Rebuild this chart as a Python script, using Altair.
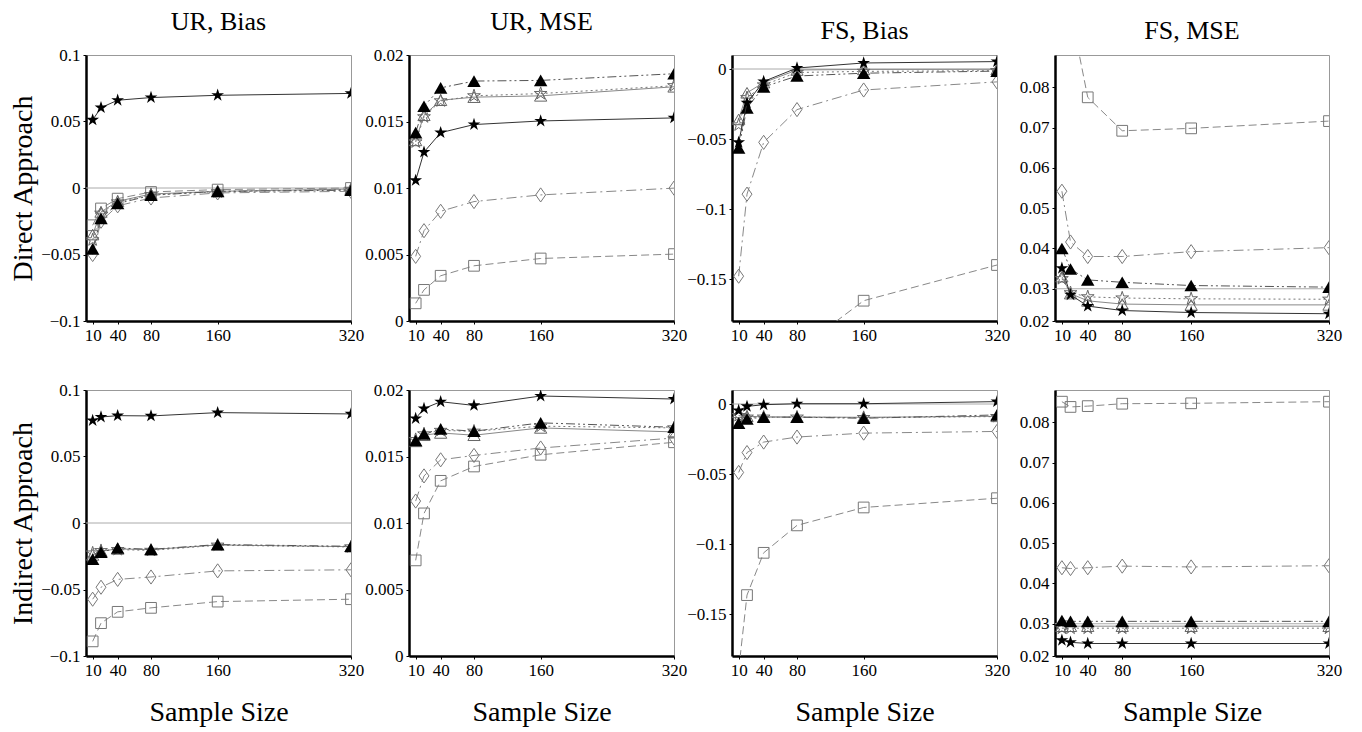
import altair as alt
import pandas as pd

SAMPLE_SIZES = [10, 20, 40, 80, 160, 320]
SERIES = ["filled star", "filled triangle", "open star", "open triangle", "open diamond", "open square"]
X_TICKS = [10, 40, 80, 160, 320]
COL_TITLES = ["UR, Bias", "UR, MSE", "FS, Bias", "FS, MSE"]
ROW_TITLES = ["Direct Approach", "Indirect Approach"]
X_TITLE = "Sample Size"

# each panel: one row of values per series (SERIES order), one value per sample size
ur_bias_direct = [
    [0.0512, 0.0604, 0.0660, 0.0680, 0.0697, 0.0711],
    [-0.0458, -0.0229, -0.0117, -0.0055, -0.0025, -0.0017],
    [-0.0390, -0.0190, -0.0105, -0.0050, -0.0030, -0.0010],
    [-0.0350, -0.0180, -0.0100, -0.0045, -0.0025, -0.0008],
    [-0.0500, -0.0250, -0.0134, -0.0075, -0.0037, -0.0025],
    [-0.0280, -0.0154, -0.0080, -0.0030, -0.0012, 0.0000],
]
ur_mse_direct = [
    [0.01057, 0.01270, 0.01416, 0.01477, 0.01504, 0.01527],
    [0.01416, 0.01615, 0.01753, 0.01804, 0.01809, 0.01859],
    [0.01346, 0.01535, 0.01655, 0.01693, 0.01710, 0.01769],
    [0.01358, 0.01547, 0.01660, 0.01683, 0.01693, 0.01761],
    [0.00486, 0.00679, 0.00825, 0.00898, 0.00948, 0.00999],
    [0.00133, 0.00234, 0.00340, 0.00415, 0.00470, 0.00503],
]
fs_bias_direct = [
    [-0.0524, -0.0242, -0.0089, 0.0007, 0.0043, 0.0053],
    [-0.0563, -0.0278, -0.0128, -0.0050, -0.0030, -0.0015],
    [-0.0400, -0.0205, -0.0114, -0.0025, -0.0017, -0.0012],
    [-0.0360, -0.0170, -0.0097, -0.0007, -0.0003, -0.0002],
    [-0.1480, -0.0894, -0.0524, -0.0290, -0.0150, -0.0092],
    [-0.4000, -0.3200, -0.2500, -0.2012, -0.1655, -0.1400],
]
fs_mse_direct = [
    [0.0351, 0.0285, 0.0257, 0.0246, 0.0241, 0.0238],
    [0.0400, 0.0349, 0.0322, 0.0316, 0.0308, 0.0304],
    [0.0325, 0.0290, 0.0280, 0.0277, 0.0275, 0.0274],
    [0.0330, 0.0288, 0.0270, 0.0262, 0.0260, 0.0260],
    [0.0542, 0.0416, 0.0380, 0.0380, 0.0392, 0.0402],
    [0.1200, 0.0990, 0.0775, 0.0692, 0.0698, 0.0716],
]
ur_bias_indirect = [
    [0.0771, 0.0797, 0.0807, 0.0805, 0.0830, 0.0820],
    [-0.0272, -0.0219, -0.0188, -0.0198, -0.0162, -0.0175],
    [-0.0226, -0.0208, -0.0200, -0.0206, -0.0167, -0.0180],
    [-0.0240, -0.0212, -0.0195, -0.0200, -0.0165, -0.0178],
    [-0.0573, -0.0483, -0.0424, -0.0406, -0.0360, -0.0352],
    [-0.0890, -0.0753, -0.0668, -0.0638, -0.0591, -0.0573],
]
ur_mse_indirect = [
    [0.01786, 0.01861, 0.01912, 0.01884, 0.01955, 0.01932],
    [0.01620, 0.01670, 0.01707, 0.01690, 0.01753, 0.01720],
    [0.01627, 0.01670, 0.01696, 0.01690, 0.01728, 0.01715],
    [0.01614, 0.01660, 0.01677, 0.01660, 0.01715, 0.01685],
    [0.01165, 0.01354, 0.01475, 0.01508, 0.01564, 0.01639],
    [0.00719, 0.01072, 0.01317, 0.01425, 0.01513, 0.01607],
]
fs_bias_indirect = [
    [-0.0047, -0.0017, -0.0005, 0.0002, 0.0002, 0.0017],
    [-0.0137, -0.0106, -0.0094, -0.0094, -0.0102, -0.0078],
    [-0.0083, -0.0094, -0.0094, -0.0094, -0.0097, -0.0090],
    [-0.0060, -0.0087, -0.0092, -0.0093, -0.0095, -0.0088],
    [-0.0489, -0.0347, -0.0272, -0.0236, -0.0208, -0.0196],
    [-0.1900, -0.1365, -0.1063, -0.0867, -0.0739, -0.0673],
]
fs_mse_indirect = [
    [0.0259, 0.0254, 0.0251, 0.0251, 0.0251, 0.0251],
    [0.0308, 0.0306, 0.0306, 0.0306, 0.0306, 0.0306],
    [0.0289, 0.0289, 0.0289, 0.0289, 0.0289, 0.0289],
    [0.0294, 0.0294, 0.0294, 0.0294, 0.0294, 0.0294],
    [0.0439, 0.0437, 0.0439, 0.0443, 0.0441, 0.0444],
    [0.0851, 0.0838, 0.0840, 0.0846, 0.0847, 0.0851],
]

BIAS_DOMAIN = [-0.1, 0.1]
BIAS_TICKS = [-0.1, -0.05, 0, 0.05, 0.1]
URMSE_DOMAIN = [0, 0.02]
URMSE_TICKS = [0, 0.005, 0.01, 0.015, 0.02]
FSBIAS_DOMAIN = [-0.18, 0.01]
FSBIAS_TICKS = [-0.15, -0.1, -0.05, 0]
FSMSE_DOMAIN = [0.022, 0.088]
FSMSE_TICKS = [0.022, 0.03, 0.04, 0.05, 0.06, 0.07, 0.08]

STAR = ("M0,-1L0.2245,-0.309L0.9511,-0.309L0.3633,0.118L0.5878,0.809L0,0.382"
        "L-0.5878,0.809L-0.3633,0.118L-0.9511,-0.309L-0.2245,-0.309Z")
DIAMOND = "M0,-1L0.7,0L0,1L-0.7,0Z"

LINE_STYLE = {
    "filled star": dict(color="#333333", strokeWidth=1),
    "filled triangle": dict(color="#555555", strokeWidth=1, strokeDash=[9, 3, 2, 3, 2, 3]),
    "open star": dict(color="#777777", strokeWidth=1, strokeDash=[2, 3]),
    "open triangle": dict(color="#888888", strokeWidth=1),
    "open diamond": dict(color="#888888", strokeWidth=1, strokeDash=[10, 4, 2, 4]),
    "open square": dict(color="#888888", strokeWidth=1, strokeDash=[8, 4]),
}
POINT_STYLE = {
    "filled star": dict(shape=STAR, size=180, filled=True, color="black", opacity=1),
    "filled triangle": dict(shape="triangle-up", size=180, filled=True, color="black", opacity=1),
    "open star": dict(shape=STAR, size=180, color="#666666", strokeWidth=1, opacity=1),
    "open triangle": dict(shape="triangle-up", size=150, color="#666666", strokeWidth=1, opacity=1),
    "open diamond": dict(shape=DIAMOND, size=200, color="#777777", strokeWidth=1, opacity=1),
    "open square": dict(shape="square", size=115, color="#777777", strokeWidth=1, opacity=1),
}

FONT = "Liberation Serif"
AXIS_STYLE = dict(
    labelFont=FONT, labelFontSize=17, labelColor="black",
    titleFont=FONT, titleFontSize=28, titleFontWeight="normal", titleColor="black",
    domainColor="black", domainWidth=2.5, tickColor="black", tickSize=3,
    grid=False, labelFlush=False, labelOverlap=False, labelPadding=3,
)


def make_panel(rows, ydom, yticks, title=None, ytitle=None, xtitle=None, ref=None, width=265):
    xscale = alt.Scale(domain=[2, 320], nice=False, zero=False)
    yscale = alt.Scale(domain=ydom, nice=False, zero=False)
    xaxis = alt.Axis(values=X_TICKS, format="d", title=xtitle, titlePadding=20, **AXIS_STYLE)
    if ydom == FSMSE_DOMAIN:
        yaxis = alt.Axis(values=yticks, title=ytitle, titlePadding=3,
                         labelExpr="datum.value < 0.025 ? '0.02' : format(datum.value, '~g')",
                         **AXIS_STYLE)
    else:
        yaxis = alt.Axis(values=yticks, format="~g", title=ytitle, titlePadding=3, **AXIS_STYLE)
    layers = []
    if ref is not None:
        layers.append(
            alt.Chart(pd.DataFrame({"y": [ref]}))
            .mark_rule(color="#aaaaaa", strokeWidth=1)
            .encode(y=alt.Y("y:Q", scale=yscale, axis=yaxis))
        )
    for s, row in reversed(list(zip(SERIES, rows))):
        df = pd.DataFrame({"x": SAMPLE_SIZES, "y": row})
        base = alt.Chart(df).encode(
            x=alt.X("x:Q", scale=xscale, axis=xaxis),
            y=alt.Y("y:Q", scale=yscale, axis=yaxis),
        )
        layers.append(base.mark_line(clip=True, **LINE_STYLE[s]))
        layers.append(base.mark_point(clip=True, **POINT_STYLE[s]))
    ch = alt.layer(*layers).properties(width=width, height=266)
    if title is not None:
        ch = ch.properties(title=alt.TitleParams(text=title, font=FONT, fontSize=26,
                                                 fontWeight="normal", color="black", offset=11))
    return ch


top = [
    make_panel(ur_bias_direct, BIAS_DOMAIN, BIAS_TICKS, COL_TITLES[0], ytitle=ROW_TITLES[0], ref=0),
    make_panel(ur_mse_direct, URMSE_DOMAIN, URMSE_TICKS, COL_TITLES[1]),
    make_panel(fs_bias_direct, FSBIAS_DOMAIN, FSBIAS_TICKS, COL_TITLES[2], ref=0),
    make_panel(fs_mse_direct, FSMSE_DOMAIN, FSMSE_TICKS, COL_TITLES[3], ref=0.03, width=274),
]
bottom = [
    make_panel(ur_bias_indirect, BIAS_DOMAIN, BIAS_TICKS, ytitle=ROW_TITLES[1], xtitle=X_TITLE, ref=0),
    make_panel(ur_mse_indirect, URMSE_DOMAIN, URMSE_TICKS, xtitle=X_TITLE),
    make_panel(fs_bias_indirect, FSBIAS_DOMAIN, FSBIAS_TICKS, xtitle=X_TITLE, ref=0),
    make_panel(fs_mse_indirect, FSMSE_DOMAIN, FSMSE_TICKS, xtitle=X_TITLE, ref=0.03, width=274),
]

chart = (
    alt.concat(*(top + bottom), columns=4, spacing={"row": 69, "column": 58}, bounds="flush")
    .properties(padding={"left": 1, "top": 0, "right": 5, "bottom": 2}, background="white")
    .configure_view(stroke="#999999", strokeWidth=1)
    .configure_axis(**AXIS_STYLE)
    .configure_text(font=FONT)
)

chart.save("out.html", embed_options={"renderer": "svg", "actions": False})
